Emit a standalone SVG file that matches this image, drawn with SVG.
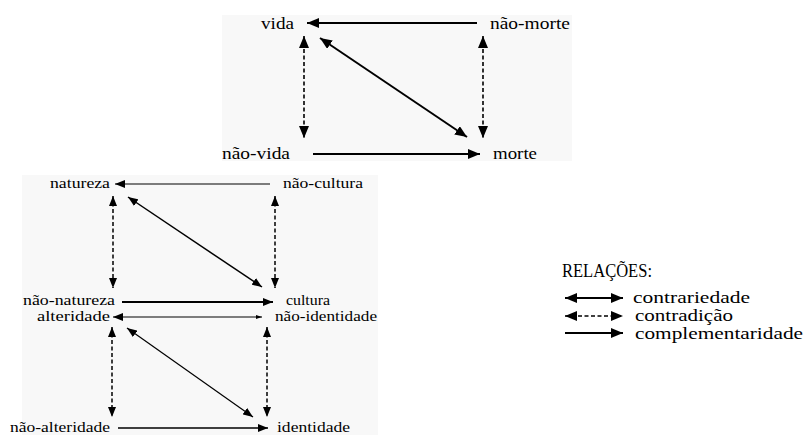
<svg xmlns="http://www.w3.org/2000/svg" width="807" height="435" viewBox="0 0 807 435">
  <defs>
    <style>
      text { font-family: 'Liberation Serif', 'Times New Roman', serif; fill: #000; }
      .top { font-size: 16px; }
      .bot { font-size: 14px; }
      .leg { font-size: 16px; }
      .ttl { font-size: 19px; }
      .ln { fill: none; stroke: #000; }
      .dash { stroke-dasharray: 4 2.5; }
      .panel { fill: #f8f8f8; }
    </style>
    <marker id="head" viewBox="0 0 12 10" refX="12" refY="5" markerWidth="12" markerHeight="10" markerUnits="userSpaceOnUse" orient="auto-start-reverse">
      <path d="M0,0 L12,5 L0,10 z" fill="#000"/>
    </marker>
    <marker id="headSm" viewBox="0 0 10 8" refX="10" refY="4" markerWidth="10" markerHeight="8" markerUnits="userSpaceOnUse" orient="auto-start-reverse">
      <path d="M0,0 L10,4 L0,8 z" fill="#000"/>
    </marker>
    <marker id="tiny" viewBox="0 0 6 4" refX="6" refY="2" markerWidth="6" markerHeight="4" markerUnits="userSpaceOnUse" orient="auto">
      <path d="M0,0 L6,2 L0,4 z" fill="#000"/>
    </marker>
  </defs>

  <rect width="807" height="435" fill="#fff"/>
  <!-- shaded panels behind the two squares -->
  <rect class="panel" x="222" y="15" width="350" height="146"/>
  <rect class="panel" x="22" y="175" width="356" height="260"/>

  <!-- connectors -->
  <g id="connectors">
    <!-- vida / morte square -->
    <line class="ln" x1="477" y1="23" x2="307" y2="23" stroke-width="2" marker-end="url(#head)"/>
    <line class="ln dash" x1="304" y1="36" x2="304" y2="138" stroke-width="1.6" marker-start="url(#head)" marker-end="url(#head)"/>
    <line class="ln dash" x1="483" y1="36" x2="483" y2="138" stroke-width="1.6" marker-start="url(#head)" marker-end="url(#head)"/>
    <line class="ln" x1="320" y1="38" x2="467" y2="137" stroke-width="2" marker-start="url(#head)" marker-end="url(#head)"/>
    <line class="ln" x1="313" y1="154" x2="480" y2="154" stroke-width="2" marker-end="url(#head)"/>

    <!-- natureza / cultura square -->
    <line class="ln" x1="270" y1="184" x2="115" y2="184" stroke-width="1.2" marker-end="url(#headSm)"/>
    <line class="ln dash" x1="113" y1="196" x2="113" y2="288" stroke-width="1.5" marker-start="url(#headSm)" marker-end="url(#headSm)"/>
    <line class="ln dash" x1="275" y1="196" x2="275" y2="288" stroke-width="1.5" marker-start="url(#headSm)" marker-end="url(#headSm)"/>
    <line class="ln" x1="128" y1="197" x2="262" y2="287" stroke-width="1.5" marker-start="url(#headSm)" marker-end="url(#headSm)"/>
    <line class="ln" x1="122" y1="302" x2="273" y2="302" stroke-width="2" marker-end="url(#headSm)"/>

    <!-- alteridade / identidade square -->
    <line class="ln" x1="113" y1="317" x2="262" y2="317" stroke-width="1" marker-start="url(#headSm)" marker-end="url(#tiny)"/>
    <line class="ln dash" x1="112" y1="327" x2="112" y2="417" stroke-width="1.5" marker-start="url(#headSm)" marker-end="url(#headSm)"/>
    <line class="ln dash" x1="267" y1="327" x2="267" y2="417" stroke-width="1.5" marker-start="url(#headSm)" marker-end="url(#headSm)"/>
    <line class="ln" x1="127" y1="328" x2="253" y2="417" stroke-width="1.2" marker-start="url(#headSm)" marker-end="url(#headSm)"/>
    <line class="ln" x1="118" y1="428" x2="268" y2="428" stroke-width="1.5" marker-end="url(#headSm)"/>

    <!-- legend arrows -->
    <line class="ln" x1="565" y1="298" x2="623" y2="298" stroke-width="2" marker-start="url(#head)" marker-end="url(#head)"/>
    <line class="ln dash" x1="565" y1="316" x2="623" y2="316" stroke-width="1.6" marker-start="url(#head)" marker-end="url(#head)"/>
    <line class="ln" x1="565" y1="333" x2="623" y2="333" stroke-width="2" marker-end="url(#head)"/>
  </g>

  <!-- nodes -->
  <g id="vida"><text class="top" x="261" y="29" textLength="33" lengthAdjust="spacingAndGlyphs">vida</text></g>
  <g id="nao-morte"><text class="top" x="490" y="29" textLength="80" lengthAdjust="spacingAndGlyphs">não-morte</text></g>
  <g id="nao-vida"><text class="top" x="222" y="159" textLength="68" lengthAdjust="spacingAndGlyphs">não-vida</text></g>
  <g id="morte"><text class="top" x="493" y="159" textLength="44" lengthAdjust="spacingAndGlyphs">morte</text></g>

  <g id="natureza"><text class="bot" x="50" y="188" textLength="60" lengthAdjust="spacingAndGlyphs">natureza</text></g>
  <g id="nao-cultura"><text class="bot" x="283" y="188" textLength="80" lengthAdjust="spacingAndGlyphs">não-cultura</text></g>
  <g id="nao-natureza"><text class="bot" x="23" y="305" textLength="92" lengthAdjust="spacingAndGlyphs">não-natureza</text></g>
  <g id="cultura"><text class="bot" x="286" y="305" textLength="44" lengthAdjust="spacingAndGlyphs">cultura</text></g>
  <g id="alteridade"><text class="bot" x="37" y="321" textLength="73" lengthAdjust="spacingAndGlyphs">alteridade</text></g>
  <g id="nao-identidade"><text class="bot" x="275" y="321" textLength="102" lengthAdjust="spacingAndGlyphs">não-identidade</text></g>
  <g id="nao-alteridade"><text class="bot" x="10" y="432" textLength="100" lengthAdjust="spacingAndGlyphs">não-alteridade</text></g>
  <g id="identidade"><text class="bot" x="277" y="432" textLength="73" lengthAdjust="spacingAndGlyphs">identidade</text></g>

  <!-- legend -->
  <g id="legend">
    <text class="ttl" x="562" y="277" textLength="90" lengthAdjust="spacingAndGlyphs">RELAÇÕES:</text>
    <text class="leg" x="633" y="303" textLength="117" lengthAdjust="spacingAndGlyphs">contrariedade</text>
    <text class="leg" x="635" y="321" textLength="98" lengthAdjust="spacingAndGlyphs">contradição</text>
    <text class="leg" x="635" y="339" textLength="168" lengthAdjust="spacingAndGlyphs">complementaridade</text>
  </g>
</svg>
